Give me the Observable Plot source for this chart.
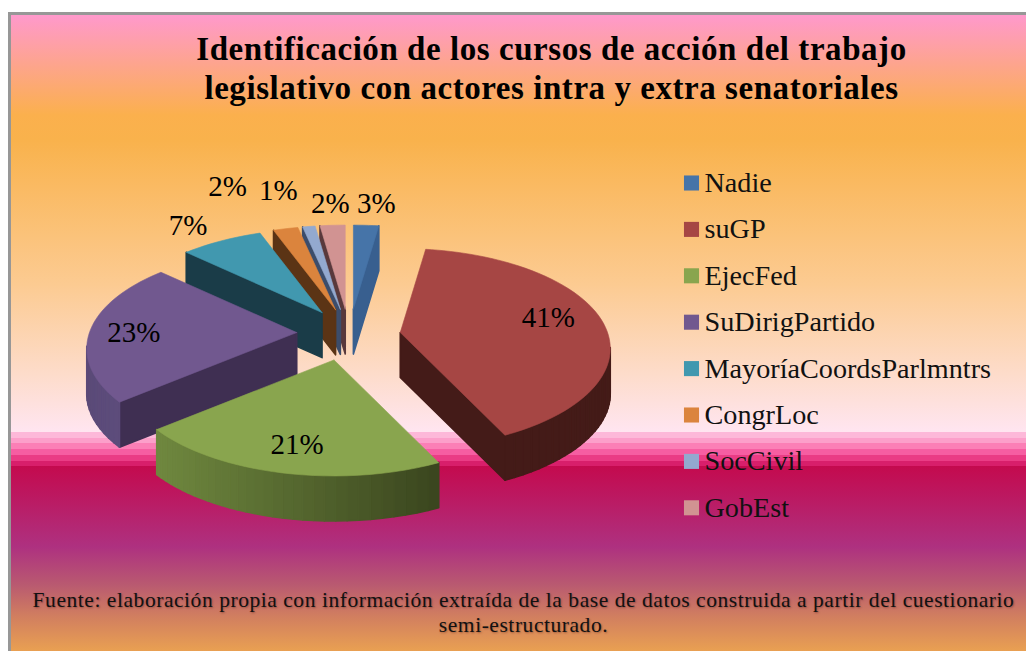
<!DOCTYPE html>
<html><head><meta charset="utf-8">
<script src="https://cdn.jsdelivr.net/npm/d3@7"></script>
<script src="https://cdn.jsdelivr.net/npm/@observablehq/plot@0.6"></script>
<style>
html,body{margin:0;padding:0;background:#fff;overflow:hidden}
#chart{position:absolute;left:8px;top:12px;width:1015px;height:636px;border-left:3px solid #979797;border-top:3px solid #979797;
 background:linear-gradient(to bottom,#ff99cc 0px,#fbb04d 100px,#f9b24c 125px,#fccb92 270px,#fddccb 360px,#ffe5f0 416px,#ffe5f0 417px,
 #fdb8d9 417px,#fdb8d9 423px,#fc9fca 423px,#fc9fca 428px,#fb7fb6 428px,#fb7fb6 434px,#f65ea2 434px,#f65ea2 440px,#ea3c85 440px,#ea3c85 446px,#d81f6b 446px,#d81f6b 451px,
 #c40a4e 451px,#ae3180 532px,#b95a70 570px,#d07d60 600px,#e9a052 636px);}
h1{margin:0;position:absolute;left:66px;right:0;top:15px;text-align:center;font:bold 33px/38.5px "Liberation Serif",serif;letter-spacing:.55px;color:#000}
#plot{position:absolute;left:0;top:95px}
#cap{position:absolute;left:0;width:1025px;top:573px;text-align:center;font:21.5px/25px "Liberation Serif",serif;letter-spacing:.55px;color:#111;text-shadow:1px 1px 2px rgba(60,0,0,.35)}
svg{overflow:visible;background:transparent!important}
</style></head><body>
<div id="chart">
<h1>Identificación de los cursos de acción del trabajo<br>legislativo con actores intra y extra senatoriales</h1>
<div id="plot"></div>
<div id="cap">Fuente: elaboración propia con información extraída de la base de datos construida a partir del cuestionario<br>semi-estructurado.</div>
</div>
<script>
const categories = ["Nadie","suGP","EjecFed","SuDirigPartido","MayoríaCoordsParlmntrs","CongrLoc","SocCivil","GobEst"];
const shares = [3,41,21,23,7,2,1,2];
const topColors = ["#4674a8","#a64644","#89a54e","#71588f","#4198af","#db843d","#93a9cf","#d19392"];
const radialWallColors = ["#385f8f","#441b18","#3a451e","#3f2f52","#1a3c48","#5b3415","#3c4d6b","#59393c"];
const arcWallColors = [["#385f8f","#385f8f"],["#441b18","#441b18"],["#6f883f","#3a451e"],["#5b4a78","#5f5080"],["#1a3c48","#1a3c48"],["#5b3415","#5b3415"],["#3c4d6b","#3c4d6b"],["#59393c","#59393c"]];
const labelOffsets = [[23,-105],[148,-15],[-37,85],[-163,0],[-134,-87],[-108,-123],[-62,-119],[-15,-105]];
const paintOrder = [7,6,5,4,0,3,1,2];

// layout of the tilted, exploded pie
const centre = [348,334.5], explode = [52,26], ell = {cy:16, rx:210, ry:100}, depth = 45;
const perspective = d3.scaleLinear().domain([0,11,158,234,317,360].map(d=>d*Math.PI/180)).range([1.6,1.6,2.58,1.85,2.4,2.4]);
const legendX = 691, legendTop = 182.5, legendStep = 46.4;

function rim(theta){
  const dx = perspective(theta)*Math.sin(theta), dy = -Math.cos(theta);
  const a = (dx/ell.rx)**2+(dy/ell.ry)**2, b = -2*dy*ell.cy/ell.ry**2, c = (ell.cy/ell.ry)**2-1;
  const t = (-b+Math.sqrt(b*b-4*a*c))/(2*a);
  return [t*dx,t*dy];
}
const total = d3.sum(shares);
let acc = 0;
const slices = shares.map((v,i)=>{
  const a0 = acc/total*2*Math.PI; acc += v; const a1 = acc/total*2*Math.PI; const mid=(a0+a1)/2;
  const apex = [centre[0]+explode[0]*Math.sin(mid), centre[1]-explode[1]*Math.cos(mid)];
  const n = Math.max(3,Math.ceil(v*1.5));
  const arc = d3.range(n+1).map(k=>{const r=rim(a0+(a1-a0)*k/n);return [apex[0]+r[0],apex[1]+r[1]];});
  return {i,v,apex,arc,name:categories[i]};
});
// Each slice is painted back to front: its walls first, then its top, so one
// mark keeps the order while the wall pieces get a wider stroke to hide seams.
const pieces = [];
let zid = 0;
function poly(points,c,w){const z=zid++;for(const p of points)pieces.push({x:p[0],y:p[1],z,c,w});}
for(const idx of paintOrder){
  const s = slices[idx];
  const ring = [s.apex,...s.arc,s.apex];
  const xs = s.arc.map(p=>p[0]), x0=d3.min(xs), x1=d3.max(xs);
  for(let k=0;k<ring.length-1;k++){
    const p=ring[k], q=ring[k+1];
    if(q[0]>=p[0]) continue;
    const radial = k===0||k===ring.length-2;
    const mx=(p[0]+q[0])/2;
    const c = radial? radialWallColors[idx] : d3.interpolateRgb(...arcWallColors[idx])((mx-x0)/(x1-x0||1));
    poly([p,q,[q[0],q[1]+depth],[p[0],p[1]+depth],p],c,1.6);
  }
  poly(ring,topColors[idx],0.6);
}
const labels = slices.map((s,i)=>({x:s.apex[0]+labelOffsets[i][0],y:s.apex[1]+labelOffsets[i][1],t:s.v+"%"}));
const legend = categories.map((name,i)=>({name,c:topColors[i],y:legendTop+legendStep*i}));

const zs = d3.range(zid);
const byZ = d3.group(pieces,d=>d.z);
const plot = Plot.plot({
  width:1015,height:478,margin:0,
  x:{domain:[11,1026],range:[0,1015],axis:null},
  y:{domain:[110,588],range:[0,478],axis:null},
  color:{type:"identity"},
  style:{background:"transparent",overflow:"visible"},
  marks:[
    ...zs.map(z=>{const d=byZ.get(z);return Plot.line(d,{x:"x",y:"y",fill:d[0].c,stroke:d[0].c,strokeWidth:d[0].w,curve:"linear"});}),
    Plot.text(labels,{x:"x",y:"y",text:"t",fontFamily:"Liberation Serif",fontSize:29,fill:"#000"}),
    Plot.dot(legend,{x:()=>legendX,y:"y",symbol:"square",r:8.5,fill:"c",stroke:null}),
    Plot.text(legend,{x:()=>legendX+13,y:"y",text:"name",textAnchor:"start",fontFamily:"Liberation Serif",fontSize:28.2,fill:"#111"})
  ]
});
document.getElementById("plot").append(plot);
</script>
</body></html>
